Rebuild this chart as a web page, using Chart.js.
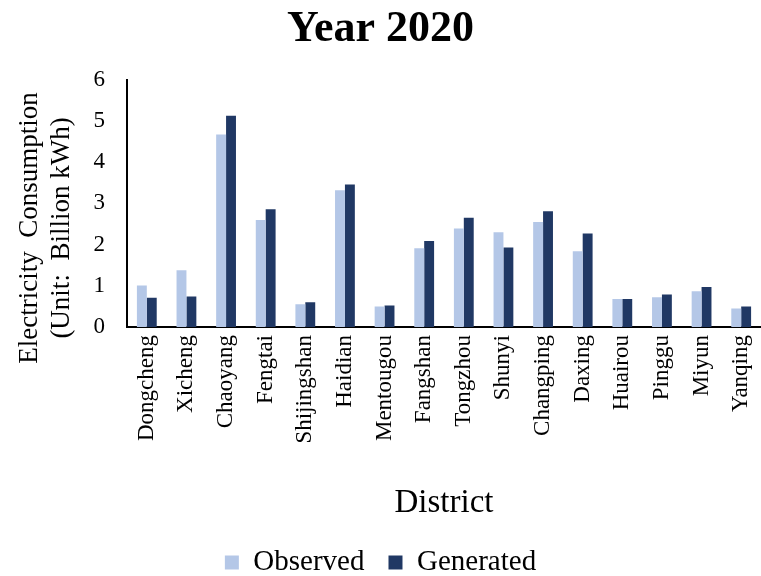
<!DOCTYPE html>
<html>
<head>
<meta charset="utf-8">
<script src="https://cdn.jsdelivr.net/npm/chart.js@4/dist/chart.umd.min.js"></script>
<style>
html,body{margin:0;padding:0;background:#fff;}
#wrap{width:761px;height:576px;position:relative;}
</style>
</head>
<body>
<div id="wrap"><canvas id="c" width="761" height="576"></canvas></div>
<script>
const districts = ["Dongcheng","Xicheng","Chaoyang","Fengtai","Shijingshan","Haidian","Mentougou","Fangshan","Tongzhou","Shunyi","Changping","Daxing","Huairou","Pinggu","Miyun","Yanqing"];
const observed = [1.01,1.38,4.67,2.60,0.55,3.32,0.50,1.91,2.39,2.30,2.55,1.84,0.68,0.72,0.87,0.45];
const generated = [0.71,0.74,5.13,2.86,0.60,3.46,0.52,2.09,2.65,1.93,2.81,2.27,0.68,0.79,0.97,0.50];
const yTicks = [0,1,2,3,4,5,6];
const yTitleLines = ['Electricity  Consumption', '(Unit:  Billion kWh)'];

const serif = "'Liberation Serif','Times New Roman',serif";

const yTitlePlugin = {
  id: 'yTitle',
  afterDraw(chart) {
    const ctx = chart.ctx;
    ctx.save();
    ctx.fillStyle = '#000';
    ctx.font = "27px " + serif;
    ctx.textAlign = 'center';
    ctx.textBaseline = 'middle';
    const xs = [30, 62];
    yTitleLines.forEach((t, i) => {
      ctx.save();
      ctx.translate(xs[i], 228);
      ctx.rotate(-Math.PI / 2);
      ctx.fillText(t, 0, 0);
      ctx.restore();
    });
    ctx.restore();
  }
};

new Chart(document.getElementById('c'), {
  type: 'bar',
  data: {
    labels: districts,
    datasets: [
      {label: 'Observed', data: observed, backgroundColor: '#b4c7e7', borderWidth: 0, categoryPercentage: 0.5, barPercentage: 1.0},
      {label: 'Generated', data: generated, backgroundColor: '#203864', borderWidth: 0, categoryPercentage: 0.5, barPercentage: 1.0}
    ]
  },
  plugins: [yTitlePlugin],
  options: {
    responsive: false,
    animation: false,
    layout: {padding: {left: 0, right: 0, top: 0, bottom: -11}},
    plugins: {
      title: {display: true, text: 'Year 2020', color: '#000', font: {family: serif, size: 44, weight: 'bold', lineHeight: 1.2}, padding: {top: 3, bottom: 24}},
      legend: {display: true, position: 'bottom', labels: {color: '#000', font: {family: serif, size: 29, lineHeight: 1.2}, boxWidth: 14, boxHeight: 14, padding: 24}},
      tooltip: {enabled: false}
    },
    scales: {
      x: {
        afterFit: (s) => { s.height = 197; s.paddingRight = 0; },
        grid: {display: false, drawTicks: false},
        border: {display: true, color: '#000', width: 2},
        ticks: {color: '#000', font: {family: serif, size: 23}, minRotation: 90, maxRotation: 90, padding: 8, autoSkip: false},
        title: {display: true, text: 'District', color: '#000', font: {family: serif, size: 33, lineHeight: 1.2}, padding: {top: 0, bottom: 1}}
      },
      y: {
        min: 0, max: 6,
        afterBuildTicks: (s) => { s.ticks = yTicks.map(v => ({value: v})); },
        afterFit: (s) => { s.width = 127; },
        grid: {display: false, drawTicks: false},
        border: {display: true, color: '#000', width: 2},
        ticks: {color: '#000', font: {family: serif, size: 23}, padding: 22},
        title: {display: false}
      }
    }
  }
});
</script>
</body>
</html>
